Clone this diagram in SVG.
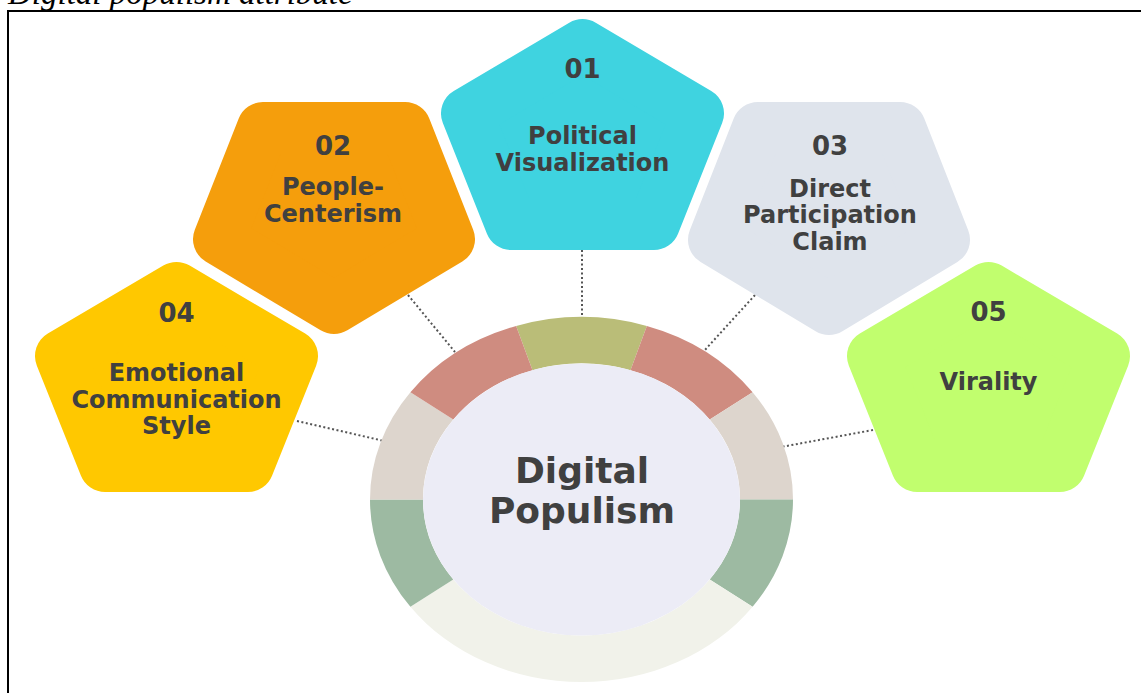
<svg xmlns="http://www.w3.org/2000/svg" width="1141" height="693" viewBox="0 0 1141 693">
<style>
.pent{stroke-width:52;stroke-linejoin:round}
.num{font-family:"DejaVu Sans",sans-serif;font-weight:bold;font-size:26px;fill:#404040;text-anchor:middle}
.lbl{font-family:"DejaVu Sans",sans-serif;font-weight:bold;font-size:24px;fill:#404040;text-anchor:middle}
.ctr{font-family:"DejaVu Sans",sans-serif;font-weight:bold;font-size:36px;fill:#404040;text-anchor:middle}
.conn{stroke:#555;stroke-width:2;stroke-dasharray:2 2.5;fill:none}
</style>
<rect x="0" y="0" width="1141" height="693" fill="#fff"/>
<text x="8" y="4" font-family="Liberation Serif, serif" font-style="italic" font-size="33" fill="#000">Digital populism attribute</text>
<rect x="8" y="11" width="1300" height="800" fill="none" stroke="#000" stroke-width="2"/>
<g id="connectors">
<line class="conn" x1="582" y1="250" x2="582" y2="320"/>
<line class="conn" x1="408" y1="295" x2="455" y2="352"/>
<line class="conn" x1="755" y1="295" x2="704" y2="351"/>
<line class="conn" x1="297" y1="421" x2="384" y2="441"/>
<line class="conn" x1="873" y1="430" x2="781" y2="447"/>
</g>
<g id="center">
<path fill="#BABD78" d="M516.15,325.93 A211.5,182.5 0 0 1 646.85,325.93 L630.48,370.15 A158.5,136 0 0 0 532.52,370.15 Z"/>
<path fill="#CF8C80" d="M646.85,325.93 A211.5,182.5 0 0 1 752.6,392.23 L709.73,419.56 A158.5,136 0 0 0 630.48,370.15 Z"/>
<path fill="#DDD5CD" d="M752.6,392.23 A211.5,182.5 0 0 1 793,499.5 L740,499.5 A158.5,136 0 0 0 709.73,419.56 Z"/>
<path fill="#9DBAA2" d="M793,499.5 A211.5,182.5 0 0 1 752.6,606.77 L709.73,579.44 A158.5,136 0 0 0 740,499.5 Z"/>
<path fill="#F1F2EA" d="M752.6,606.77 A211.5,182.5 0 0 1 410.4,606.77 L453.27,579.44 A158.5,136 0 0 0 709.73,579.44 Z"/>
<path fill="#9DBAA2" d="M410.4,606.77 A211.5,182.5 0 0 1 370,499.5 L423,499.5 A158.5,136 0 0 0 453.27,579.44 Z"/>
<path fill="#DDD5CD" d="M370,499.5 A211.5,182.5 0 0 1 410.4,392.23 L453.27,419.56 A158.5,136 0 0 0 423,499.5 Z"/>
<path fill="#CF8C80" d="M410.4,392.23 A211.5,182.5 0 0 1 516.15,325.93 L532.52,370.15 A158.5,136 0 0 0 453.27,419.56 Z"/>
<ellipse cx="581.5" cy="499.5" rx="158.5" ry="136" fill="#ECECF6"/>
<text class="ctr" x="582" y="483">Digital</text>
<text class="ctr" x="582" y="523">Populism</text>
</g>
<g id="node01">
<polygon class="pent" fill="#3FD3E0" stroke="#3FD3E0" points="582.5,45 698,113.4 653.9,224 511.1,224 467,113.4"/>
<text class="num" x="582.5" y="78">01</text>
<text class="lbl" x="582.5" y="144">Political</text>
<text class="lbl" x="582.5" y="170.7">Visualization</text>
</g>
<g id="node02">
<polygon class="pent" fill="#F59E0C" stroke="#F59E0C" points="262.9,128 405.1,128 449,239.2 334,308 219,239.2"/>
<text class="num" x="333" y="155">02</text>
<text class="lbl" x="333" y="195">People-</text>
<text class="lbl" x="333" y="221.7">Centerism</text>
</g>
<g id="node03">
<polygon class="pent" fill="#DFE4EC" stroke="#DFE4EC" points="757.9,128 900.1,128 944,239.8 829,309 714,239.8"/>
<text class="num" x="830" y="155">03</text>
<text class="lbl" x="830" y="196.7">Direct</text>
<text class="lbl" x="830" y="223.3">Participation</text>
<text class="lbl" x="830" y="250">Claim</text>
</g>
<g id="node04">
<polygon class="pent" fill="#FFC800" stroke="#FFC800" points="176.5,288 292,356 247.9,466 105.1,466 61,356"/>
<text class="num" x="176.5" y="321.7">04</text>
<text class="lbl" x="176.5" y="381">Emotional</text>
<text class="lbl" x="176.5" y="407.7">Communication</text>
<text class="lbl" x="176.5" y="434">Style</text>
</g>
<g id="node05">
<polygon class="pent" fill="#C1FE6E" stroke="#C1FE6E" points="988.5,288 1104,356 1059.9,466 917.1,466 873,356"/>
<text class="num" x="988.5" y="320.7">05</text>
<text class="lbl" x="988.5" y="390">Virality</text>
</g>
</svg>
